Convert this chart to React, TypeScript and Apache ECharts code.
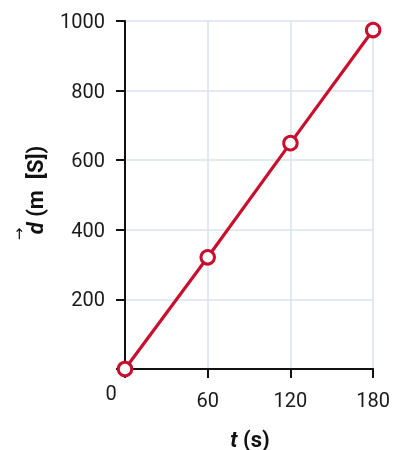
import React, { useEffect, useRef } from "react";
import * as echarts from "echarts";

const timeValues = [0, 60, 120, 180];
const distanceValues = [0, 321, 649, 974];
const xTicks = [0, 60, 120, 180];
const yTicks = [0, 200, 400, 600, 800, 1000];

const RED = "#c8102e";
const GRID = "#dbe3f1";
const FONT = "Roboto";

export default function App() {
  const ref = useRef<HTMLDivElement>(null);
  useEffect(() => {
    if (!ref.current) return;
    const chart = echarts.init(ref.current, undefined, { renderer: "svg" });
    const data = timeValues.map((t, i) => [t, distanceValues[i]]);
    const nameRich = {
      i: { fontFamily: FONT, fontSize: 22, fontWeight: "bold", fontStyle: "italic", fill: "#111" },
      b: { fontFamily: FONT, fontSize: 22, fontWeight: "bold", fill: "#111" },
    };
    chart.setOption({
      animation: false,
      grid: { left: 125, right: 18, top: 21, bottom: 81, containLabel: false },
      xAxis: {
        type: "value",
        min: xTicks[0],
        max: xTicks[xTicks.length - 1],
        interval: 60,
        axisLine: { show: true, lineStyle: { color: "#111", width: 2 } },
        axisTick: { show: true, length: 9, lineStyle: { color: "#111", width: 2 } },
        axisLabel: {
          margin: 21,
          fontFamily: FONT,
          fontSize: 20,
          color: "#1a1a1a",
          formatter: (v: number) => (v === 0 ? "" : String(v)),
        },
        splitLine: { show: true, lineStyle: { color: GRID, width: 1.5 } },
      },
      yAxis: {
        type: "value",
        min: yTicks[0],
        max: yTicks[yTicks.length - 1],
        interval: 200,
        axisLine: { show: true, onZero: false, lineStyle: { color: "#111", width: 2 } },
        axisTick: { show: true, length: 9, lineStyle: { color: "#111", width: 2 } },
        axisLabel: {
          margin: 20,
          fontFamily: FONT,
          fontSize: 20,
          color: "#1a1a1a",
          formatter: (v: number) => (v === 0 ? "" : String(v)),
        },
        splitLine: { show: true, lineStyle: { color: GRID, width: 1.5 } },
      },
      series: [
        {
          type: "line",
          data,
          lineStyle: { color: RED, width: 3.2 },
          symbol: "circle",
          symbolSize: 13.5,
          itemStyle: { color: "#fff", borderColor: RED, borderWidth: 3 },
          z: 5,
        },
      ],
      graphic: [
        {
          type: "text",
          x: 111,
          y: 393,
          style: {
            text: "0",
            font: `20px ${FONT}`,
            fill: "#1a1a1a",
            align: "center",
            verticalAlign: "middle",
          },
        },
        {
          type: "text",
          x: 250,
          y: 439,
          style: {
            text: "{i|t}{b| (s)}",
            align: "center",
            verticalAlign: "middle",
            rich: nameRich,
          },
        },
        {
          type: "group",
          x: 35,
          y: 190,
          rotation: Math.PI / 2,
          children: [
            {
              type: "text",
              x: 0,
              y: 0,
              style: {
                text: "{i|d}{b| (m  [S])}",
                align: "center",
                verticalAlign: "middle",
                rich: nameRich,
              },
            },
            {
              type: "text",
              x: -44,
              y: -16,
              style: {
                text: "→",
                font: `15px "DejaVu Sans"`,
                fill: "#111",
                align: "center",
                verticalAlign: "middle",
              },
            },
          ],
        },
      ],
    });
    return () => chart.dispose();
  }, []);
  return (
    <div
      ref={ref}
      style={{ position: "fixed", left: 0, top: 0, width: 393, height: 450 }}
    />
  );
}
